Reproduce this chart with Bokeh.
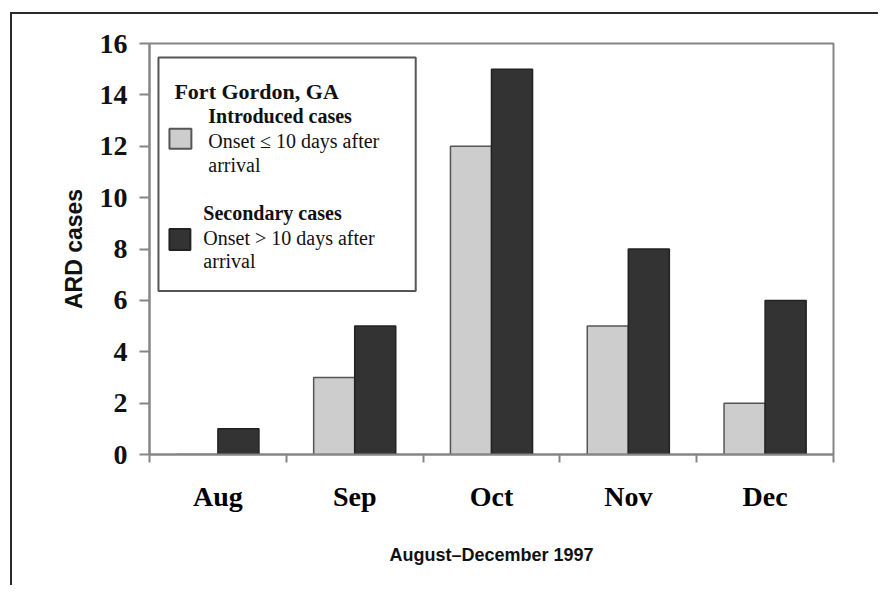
from bokeh.plotting import figure
from bokeh.models import Range1d, FixedTicker, BoxAnnotation, Label, ColumnDataSource
from bokeh.embed import file_html
from bokeh.resources import INLINE

# ---- data ----
months = ["Aug", "Sep", "Oct", "Nov", "Dec"]
introduced = [0, 3, 12, 5, 2]      # onset <= 10 days after arrival
secondary = [1, 5, 15, 8, 6]       # onset > 10 days after arrival
y_ticks = [0, 2, 4, 6, 8, 10, 12, 14, 16]

title_text = "Fort Gordon, GA"
intro_head = "Introduced cases"
intro_lines = ["Onset \u2264 10 days after", "arrival"]
sec_head = "Secondary cases"
sec_lines = ["Onset > 10 days after", "arrival"]
x_title = "August\u2013December 1997"
y_title = "ARD cases"

LIGHT = "#cdcdcd"
DARK = "#333333"
AXIS = "#858585"
SERIF = "Liberation Serif"
SANS = "Liberation Sans"

n = len(months)
bw = 0.3
centers = [i + 0.5 for i in range(n)]

src = ColumnDataSource(dict(
    x_intro=[c - bw / 2 for c in centers],
    x_sec=[c + bw / 2 for c in centers],
    introduced=introduced,
    secondary=secondary,
))

p = figure(width=868, height=573,
           x_range=Range1d(0, n), y_range=Range1d(0, 16),
           output_backend="svg", toolbar_location=None,
           min_border_left=137, min_border_right=47,
           min_border_top=29, min_border_bottom=133)
p.styles = {"margin-left": "10px", "margin-top": "12px",
            "border-left": "2px solid #2a2a2a", "border-top": "2px solid #2a2a2a"}

p.xgrid.visible = False
p.ygrid.visible = False
p.outline_line_color = AXIS
p.outline_line_width = 2
p.background_fill_color = "white"
p.border_fill_color = "white"

p.vbar(x="x_intro", top="introduced", width=bw, bottom=0, source=src,
       fill_color=LIGHT, line_color="#555555", line_width=1.5)
p.vbar(x="x_sec", top="secondary", width=bw, bottom=0, source=src,
       fill_color=DARK, line_color="#222222", line_width=1.5)

# x axis: labels at centres, ticks at category boundaries
xa = p.xaxis[0]
xa.ticker = FixedTicker(ticks=centers, minor_ticks=list(range(n + 1)))
xa.major_label_overrides = {c: m for c, m in zip(centers, months)}
xa.major_tick_out = 0
xa.major_tick_in = 0
xa.minor_tick_out = 8
xa.minor_tick_in = 0
xa.minor_tick_line_color = AXIS
xa.minor_tick_line_width = 2
xa.axis_line_color = AXIS
xa.axis_line_width = 2
xa.major_label_text_font = SERIF
xa.major_label_text_font_style = "bold"
xa.major_label_text_font_size = "28px"
xa.major_label_text_color = "black"
xa.major_label_standoff = 18
xa.axis_label = x_title
xa.axis_label_text_font = SANS
xa.axis_label_text_font_style = "bold"
xa.axis_label_text_font_size = "18px"
xa.axis_label_text_color = "#111111"
xa.axis_label_standoff = 30

ya = p.yaxis[0]
ya.ticker = FixedTicker(ticks=y_ticks)
ya.major_tick_out = 10
ya.major_tick_in = 0
ya.major_tick_line_color = AXIS
ya.major_tick_line_width = 2
ya.minor_tick_line_color = None
ya.axis_line_color = AXIS
ya.axis_line_width = 2
ya.major_label_text_font = SERIF
ya.major_label_text_font_style = "bold"
ya.major_label_text_font_size = "28px"
ya.major_label_text_color = "#111111"
ya.major_label_standoff = 12
ya.axis_label = y_title
ya.axis_label_text_font = SANS
ya.axis_label_text_font_style = "bold"
ya.axis_label_text_font_size = "23px"
ya.axis_label_text_color = "#111111"
ya.axis_label_standoff = 10

# ---- legend (inside the frame; pixel layout converted to data units) ----
FX0, FX1, FY0, FY1 = 150.0, 836.0, 44.0, 454.0   # frame in page pixels
def dx(px):
    return (px - FX0) / (FX1 - FX0) * n
def dy(py):
    return (FY1 - py) / (FY1 - FY0) * 16

p.add_layout(BoxAnnotation(left=dx(159), right=dx(417), top=dy(58), bottom=dy(291),
                           fill_color="white", fill_alpha=1.0,
                           line_color="#555555", line_width=2, line_alpha=1.0))
p.add_layout(BoxAnnotation(left=dx(170), right=dx(192), top=dy(129), bottom=dy(149),
                           fill_color=LIGHT, fill_alpha=1.0,
                           line_color="#555555", line_width=2, line_alpha=1.0))
p.add_layout(BoxAnnotation(left=dx(170), right=dx(191), top=dy(229), bottom=dy(250),
                           fill_color=DARK, fill_alpha=1.0,
                           line_color="#222222", line_width=2, line_alpha=1.0))

def lab(px, py, text, bold, size):
    p.add_layout(Label(x=dx(px), y=dy(py), text=text, text_font=SERIF,
                       text_font_style="bold" if bold else "normal",
                       text_font_size=size, text_color="#111111",
                       text_baseline="middle", text_align="left"))

lab(175, 92, title_text, True, "22px")
lab(209, 116, intro_head, True, "20px")
lab(209, 141, intro_lines[0], False, "20px")
lab(209, 165, intro_lines[1], False, "20px")
lab(204, 213, sec_head, True, "20px")
lab(204, 238, sec_lines[0], False, "20px")
lab(204, 261, sec_lines[1], False, "20px")

open("out.html", "w").write(file_html(p, INLINE))
